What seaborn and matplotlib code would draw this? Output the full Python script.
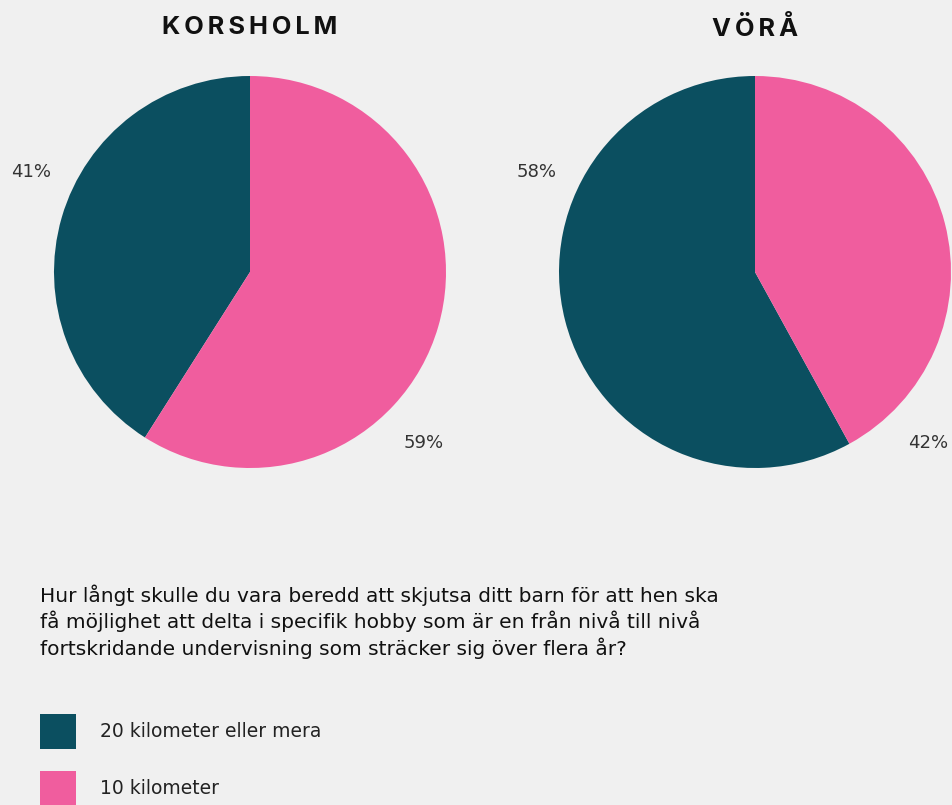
import matplotlib
matplotlib.use("Agg")
import matplotlib.pyplot as plt
import seaborn as sns
from matplotlib.patches import Patch

# ---- data ----
regions = ["KORSHOLM", "VÖRÅ"]
categories = ["20 kilometer eller mera", "10 kilometer"]
korsholm_values = [41, 59]
vora_values = [58, 42]
question = ("Hur långt skulle du vara beredd att skjutsa ditt barn för att hen ska\n"
            "få möjlighet att delta i specifik hobby som är en från nivå till nivå\n"
            "fortskridande undervisning som sträcker sig över flera år?")

sns.set_theme(style="white", rc={"figure.facecolor": "#f0f0f0",
                                  "axes.facecolor": "#f0f0f0"})
plt.rcParams["font.family"] = ["DejaVu Sans"]
colors = ["#0b4f60", "#f05d9e"]
sns.set_palette(colors)

W, H = 953, 805
fig = plt.figure(figsize=(W / 100, H / 100), dpi=100)
fig.patch.set_facecolor("#f0f0f0")

centers = [(250, 272), (755, 272)]
R = 196
all_values = [korsholm_values, vora_values]

for (cx, cy), name, vals in zip(centers, regions, all_values):
    ax = fig.add_axes([(cx - R) / W, (H - cy - R) / H, 2 * R / W, 2 * R / H])
    ax.pie(vals, colors=colors, startangle=90, counterclock=True,
           radius=1.0, wedgeprops=dict(linewidth=0))
    ax.set_xlim(-1, 1)
    ax.set_ylim(-1, 1)
    ax.set_aspect("equal")
    ax.axis("off")
    # percentage labels
    ax.text(-1.115, 0.51, f"{vals[0]}%", ha="center", va="center",
            fontsize=13, color="#333333", clip_on=False)
    ax.text(0.885, -0.872, f"{vals[1]}%", ha="center", va="center",
            fontsize=13, color="#333333", clip_on=False)
    # title
    fig.text(cx / W, 1 - 28 / H, "\u2009".join(name), ha="center", va="center",
             fontsize=18.3, fontweight="bold", color="#111111", family="Inter")

fig.text(40 / W, 1 - 584 / H, question, ha="left", va="top",
         fontsize=14.5, color="#111111", linespacing=1.3)

handles = [Patch(facecolor=c, edgecolor="none") for c in colors]
leg = fig.legend(handles, categories, loc="upper left",
                 bbox_to_anchor=(40 / W, 1 - 714 / H), frameon=False,
                 fontsize=13.5, handlelength=1.9, handleheight=2.5,
                 handletextpad=1.3, labelspacing=1.15, borderaxespad=0,
                 borderpad=0)
for t in leg.get_texts():
    t.set_color("#222222")

fig.savefig("out.png", dpi=100, facecolor=fig.get_facecolor())
